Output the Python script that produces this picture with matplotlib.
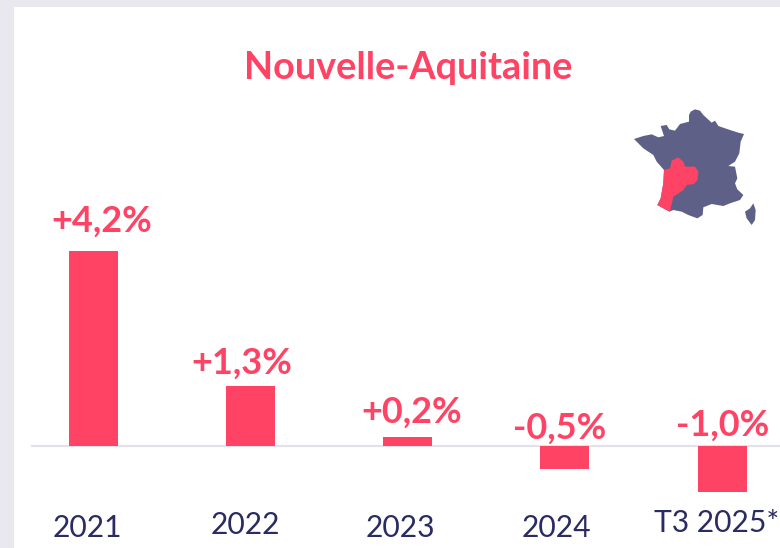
import matplotlib
matplotlib.use('Agg')
import matplotlib.pyplot as plt
from matplotlib.patches import Polygon, Rectangle

# Chart values
categories = ['2021', '2022', '2023', '2024', 'T3 2025*']
values = [4.2, 1.3, 0.2, -0.5, -1.0]
value_labels = ['+4,2%', '+1,3%', '+0,2%', '-0,5%', '-1,0%']
title = 'Nouvelle-Aquitaine'

# Label placement, in pixels around each category centre
value_label_dx = [8.5, -8, 4, -5, 1]
value_label_y = [221, 363, 412, 428, 425]
category_dx = [-5.5, -5, -7.5, -8.5, -5.5]
category_label_y = [528, 525, 528, 528, 523]

france_x = [207, 212, 225, 240, 250, 275, 285, 295, 330, 355, 372, 362, 358, 345, 325, 345, 352, 345, 352, 370,
            360, 330, 310, 275, 250, 248, 232, 205, 185, 160, 148, 112, 122, 130, 132, 110, 100, 70, 42, 70,
            95, 115, 132, 122, 140, 148, 165, 180, 207]
france_y = [45, 35, 28, 32, 45, 68, 62, 78, 90, 98, 102, 125, 160, 185, 198, 200, 235, 250, 268, 285,
            300, 310, 318, 312, 322, 345, 355, 345, 335, 330, 335, 315, 295, 250, 210, 185, 165, 145, 117, 108,
            103, 112, 108, 78, 75, 88, 92, 72, 65]
region_x = [175, 190, 195, 225, 235, 232, 222, 200, 190, 160, 150, 130, 112, 122, 130, 132, 150, 155]
region_y = [172, 185, 200, 200, 215, 240, 252, 255, 270, 290, 335, 325, 315, 295, 250, 210, 205, 182]
corsica_x = [400, 407, 405, 395, 380, 375, 390]
corsica_y = [310, 330, 360, 375, 355, 335, 325]

PINK = '#FF4365'
NAVY = '#2A2B63'
MAP = '#5F6087'
GREY = '#E8E8EE'
AXIS = '#E3E2EA'

plt.rcParams['font.family'] = ['Lato', 'DejaVu Sans']

fig = plt.figure(figsize=(7.8, 5.48), dpi=100)

# Page furniture and map, in pixel coordinates
bg = fig.add_axes([0, 0, 1, 1])
bg.set_xlim(0, 780)
bg.set_ylim(548, 0)
bg.axis('off')
bg.add_patch(Rectangle((0, 0), 14, 548, color=GREY, lw=0))
bg.add_patch(Rectangle((0, 0), 780, 7, color=GREY, lw=0))


def to_px(xs, ys):
    return [(620 + x / 3, 100 + y / 3) for x, y in zip(xs, ys)]


bg.add_patch(Polygon(to_px(france_x, france_y), color=MAP, lw=0))
bg.add_patch(Polygon(to_px(corsica_x, corsica_y), color=MAP, lw=0))
bg.add_patch(Polygon(to_px(region_x, region_y), color=PINK, lw=0))
bg.text(408, 68, title, color=PINK, fontsize=27.3, fontweight='bold', ha='center', va='center')

# Bars: category spacing 157.25 px, zero line at 446 px, 46.4 px per point
ax = fig.add_axes([0, 0, 1, 1])
ax.patch.set_alpha(0)
ax.set_xlim(-93 / 157.25, (780 - 93) / 157.25)
ax.set_ylim(-(548 - 446) / 46.4, 446 / 46.4)
ax.axis('off')

ax.plot([(32 - 93) / 157.25, (780 - 93) / 157.25], [0.01, 0.01], color=AXIS, lw=1.5, zorder=1)
positions = list(range(len(categories)))
ax.bar(positions, values, width=49 / 157.25, color=PINK, zorder=2)

for i in positions:
    px = 93 + i * 157.25
    bg.text(px + value_label_dx[i], value_label_y[i], value_labels[i], color=PINK, fontsize=26,
            fontweight='bold', ha='center', va='center')
    bg.text(px + category_dx[i], category_label_y[i], categories[i], color=NAVY, fontsize=21.6,
            ha='center', va='center')

fig.savefig('out.png', dpi=100)
